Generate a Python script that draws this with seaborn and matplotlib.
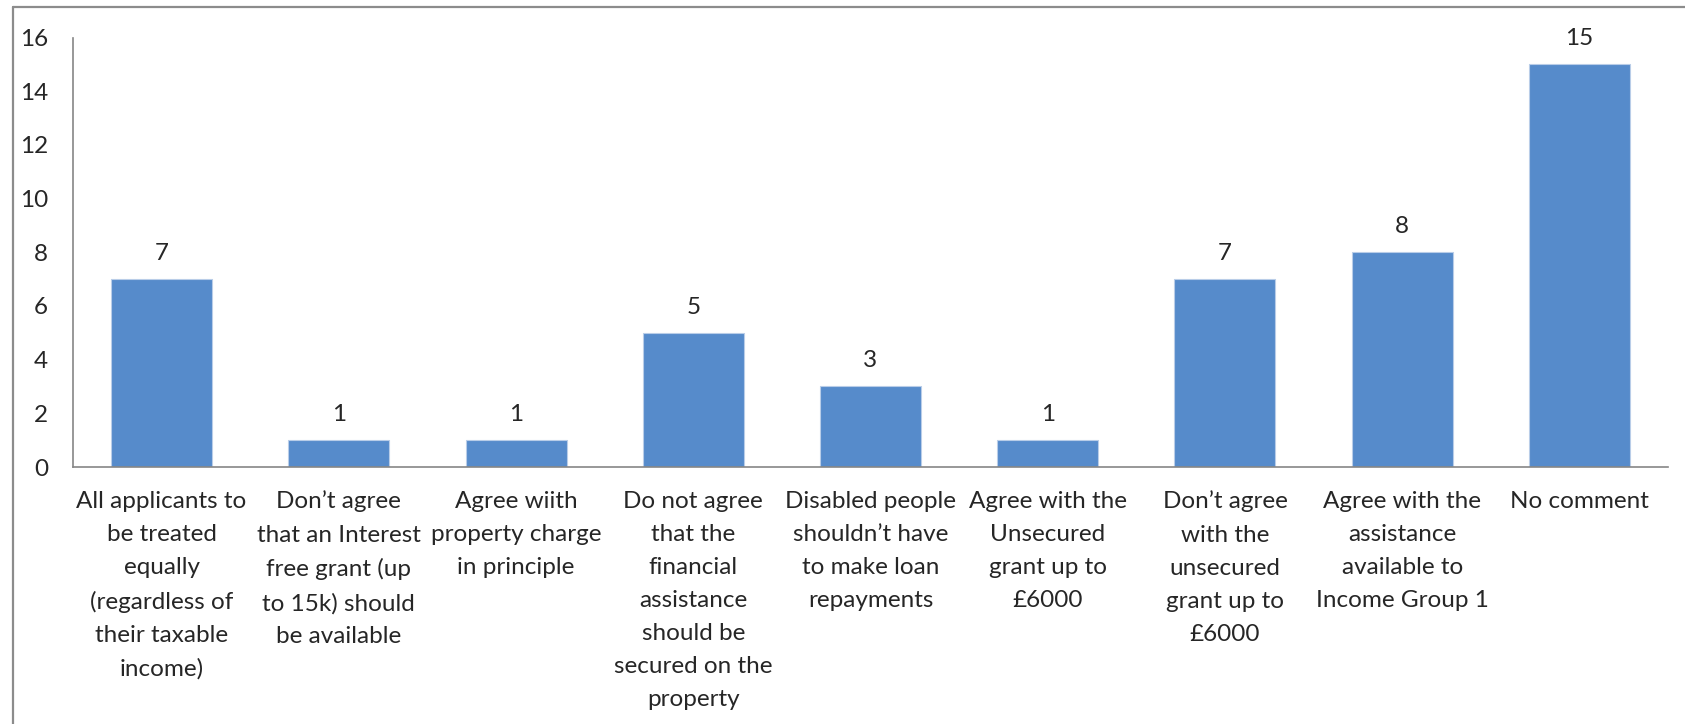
import matplotlib
matplotlib.use("Agg")
import matplotlib.pyplot as plt
import seaborn as sns
import pandas as pd
from matplotlib.lines import Line2D

categories = [
    "All applicants to\nbe treated\nequally\n(regardless of\ntheir taxable\nincome)",
    "Don\u2019t agree\nthat an Interest\nfree grant (up\nto 15k) should\nbe available",
    "Agree wiith\nproperty charge\nin principle",
    "Do not agree\nthat the\nfinancial\nassistance\nshould be\nsecured on the\nproperty",
    "Disabled people\nshouldn\u2019t have\nto make loan\nrepayments",
    "Agree with the\nUnsecured\ngrant up to\n\u00a36000",
    "Don\u2019t agree\nwith the\nunsecured\ngrant up to\n\u00a36000",
    "Agree with the\nassistance\navailable to\nIncome Group 1",
    "No comment",
]
values = [7, 1, 1, 5, 3, 1, 7, 8, 15]
y_ticks = [0, 2, 4, 6, 8, 10, 12, 14, 16]

sns.set_style("white")
plt.rcParams['font.family'] = ['Lato', 'DejaVu Sans']

df = pd.DataFrame({"cat": categories, "val": values})

W, H = 1685, 724
fig = plt.figure(figsize=(W / 100, H / 100), dpi=100)
ax = fig.add_axes([73 / W, 1 - 467 / H, (1668 - 73) / W, (467 - 37.5) / H])

sns.barplot(data=df, x="cat", y="val", color="#568BCB", saturation=1,
            width=0.57, edgecolor="#b9cde8", linewidth=0.8, ax=ax)

ax.set_ylim(0, 16)
ax.set_xlim(-0.5, len(categories) - 0.5)
ax.set_yticks(y_ticks)
ax.set_yticklabels([str(t) for t in y_ticks], fontsize=17.5)
ax.set_xlabel("")
ax.set_ylabel("")
ax.tick_params(axis="y", length=0, pad=18)
ax.tick_params(axis="x", length=0, pad=17)
for lbl in ax.get_xticklabels():
    lbl.set_fontsize(17.5)
    lbl.set_linespacing(1.71)
    lbl.set_ha("center")
    lbl.set_va("top")

for s in ["top", "right"]:
    ax.spines[s].set_visible(False)
for s in ["left", "bottom"]:
    ax.spines[s].set_color("#868686")
    ax.spines[s].set_linewidth(1.2)

for i, v in enumerate(values):
    ax.annotate(str(v), (i, v), xytext=(0, 11), textcoords="offset points",
                ha="center", va="bottom", fontsize=17.5)

# chart-area border (Excel style)
fig.add_artist(Line2D([13 / W, 1.0], [1 - 7 / H, 1 - 7 / H], transform=fig.transFigure,
                      color="#8c8c8c", linewidth=1.6))
fig.add_artist(Line2D([13 / W, 13 / W], [0.0, 1 - 7 / H], transform=fig.transFigure,
                      color="#8c8c8c", linewidth=1.6))

fig.savefig("out.png", dpi=100)
